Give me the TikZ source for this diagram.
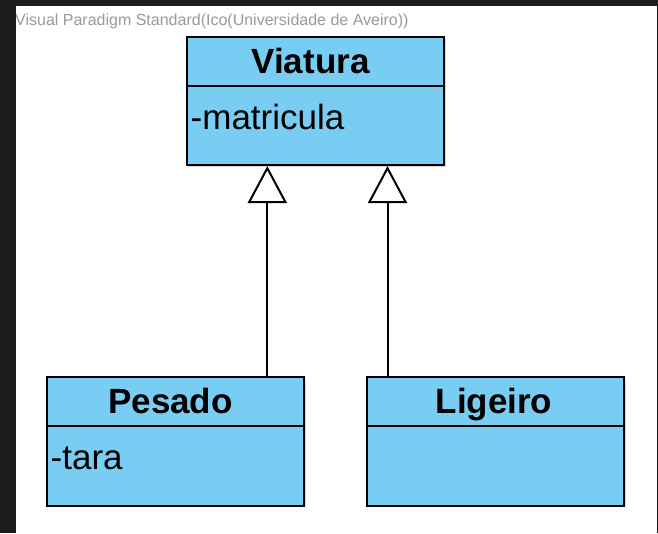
\documentclass[tikz,border=0pt]{standalone}
\usepackage{fontspec}
\setmainfont{Liberation Sans}
\usetikzlibrary{arrows.meta,shadows}
\definecolor{vpblue}{HTML}{79CDF3}
\definecolor{vpgray}{HTML}{9A9A9A}
\definecolor{bgdark}{HTML}{1C1C1C}
\begin{document}
\begin{tikzpicture}[x=1pt,y=-1pt,
  classbox/.style={draw=black, line width=2pt, fill=vpblue, rectangle, inner sep=0pt,
    drop shadow={shadow xshift=1.5pt, shadow yshift=-1.5pt, opacity=0.3}},
  divider/.style={draw=black, line width=2pt},
  classname/.style={font=\fontsize{35}{35}\selectfont\bfseries, inner sep=0pt, anchor=base},
  attr/.style={font=\fontsize{35}{35}\selectfont, inner sep=0pt, anchor=base west},
  gen/.style={draw=black, line width=2pt, -{Triangle[open, length=37pt, width=39pt]}},
  wm/.style={text=vpgray, font=\fontsize{16}{16}\selectfont, inner sep=0pt, anchor=base west}
]
\useasboundingbox (0,0) rectangle (658,533);
\fill[bgdark] (0,0) rectangle (658,533);
\fill[white] (16,6) rectangle (657,533);
\begin{scope}
\clip (16,6) rectangle (657,533);
\node[wm] (vp) at (15,25.7) {Visual Paradigm Standard(Ico(Universidade de Aveiro))};
\end{scope}

% boxes
\node[classbox, minimum width=257.3pt, minimum height=127.7pt] (viatura) at (315.35,101.15) {};
\node[classbox, minimum width=257.3pt, minimum height=128.4pt] (pesado) at (175.35,441.5) {};
\node[classbox, minimum width=257.3pt, minimum height=128.4pt] (ligeiro) at (495.35,441.5) {};

\coordinate (vdiv) at (0,86);
\coordinate (bdiv) at (0,425.7);
\draw[divider] (viatura.west |- vdiv) -- (viatura.east |- vdiv);
\draw[divider] (pesado.west |- bdiv) -- (pesado.east |- bdiv);
\draw[divider] (ligeiro.west |- bdiv) -- (ligeiro.east |- bdiv);

% texts
\node[classname] (vname) at (310.5,73.3) {Viatura};
\node[attr] (vattr) at (190.5,129) {-matricula};
\node[classname] (pname) at (170.5,413.3) {Pesado};
\node[attr] (pattr) at (50.5,469.3) {-tara};
\node[classname] (lname) at (494,413.3) {Ligeiro};

% generalizations
\coordinate (pa) at (267.3,0);
\coordinate (la) at (387.5,0);
\draw[gen] (pesado.north -| pa) -- (viatura.south -| pa);
\draw[gen] (ligeiro.north -| la) -- (viatura.south -| la);
\end{tikzpicture}
\end{document}
